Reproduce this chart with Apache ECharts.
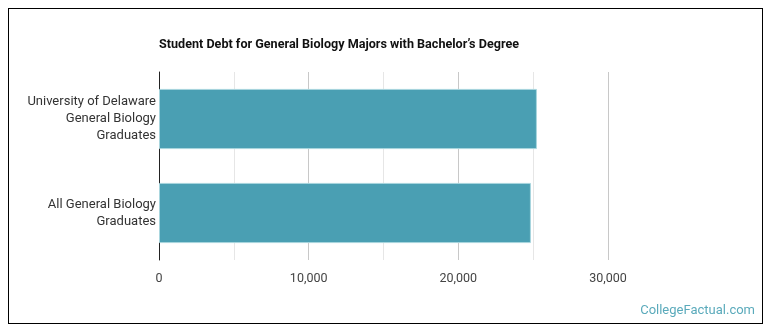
<!DOCTYPE html>
<html>
<head>
<meta charset="utf-8">
<title>Student Debt</title>
<script src="https://cdn.jsdelivr.net/npm/echarts@6/dist/echarts.min.js"></script>
<style>
  html, body { margin: 0; padding: 0; background: #fff; }
  #frame { position: absolute; left: 8px; top: 8px; width: 753px; height: 314px; border: 1px solid #000; }
  #chart { position: absolute; left: 0; top: 0; width: 770px; height: 335px; }
</style>
</head>
<body>
<div id="frame"></div>
<div id="chart"></div>
<script>
  // data
  var categories = ['All General Biology\nGraduates', 'University of Delaware\nGeneral Biology\nGraduates'];
  var debtValues = [24850, 25250];
  var xTicks = [0, 10000, 20000, 30000];

  var myChart = echarts.init(document.getElementById('chart'));
  var option = {
    animation: false,
    title: {
      text: 'Student Debt for General Biology Majors with Bachelor\u2019s Degree',
      left: 159,
      top: 38,
      padding: 0,
      textStyle: { fontFamily: 'Roboto', fontSize: 12.6, fontWeight: 'bold', color: '#111' }
    },
    graphic: [{
      type: 'text',
      right: 15,
      top: 304,
      style: { text: 'CollegeFactual.com', fontFamily: 'Roboto', fontSize: 13, fill: '#5aaabb' }
    }],
    grid: { left: 159, right: 162, top: 72, bottom: 75, containLabel: false },
    xAxis: {
      type: 'value',
      min: xTicks[0],
      max: xTicks[xTicks.length - 1],
      interval: 10000,
      axisLine: { show: false },
      axisTick: { show: false },
      axisLabel: {
        margin: 12,
        fontFamily: 'Roboto', fontSize: 12.5, color: '#444',
        formatter: function (v) { return v.toLocaleString('en-US'); }
      },
      splitLine: { show: true, lineStyle: { color: '#c8c8c8', width: 1 } },
      minorTick: { show: false, splitNumber: 2 },
      minorSplitLine: { show: true, lineStyle: { color: '#e6e6e6', width: 1 } }
    },
    yAxis: {
      type: 'category',
      data: categories,
      axisLine: { show: true, lineStyle: { color: '#222', width: 1 } },
      axisTick: { show: false },
      axisLabel: {
        margin: 3,
        fontFamily: 'Roboto', fontSize: 13, color: '#333', lineHeight: 17, align: 'right'
      }
    },
    series: [{
      type: 'bar',
      data: debtValues,
      barCategoryGap: '36%',
      itemStyle: { color: '#4a9fb3', borderColor: '#a9d6de', borderWidth: 1 }
    }]
  };
  myChart.setOption(option);
</script>
</body>
</html>
